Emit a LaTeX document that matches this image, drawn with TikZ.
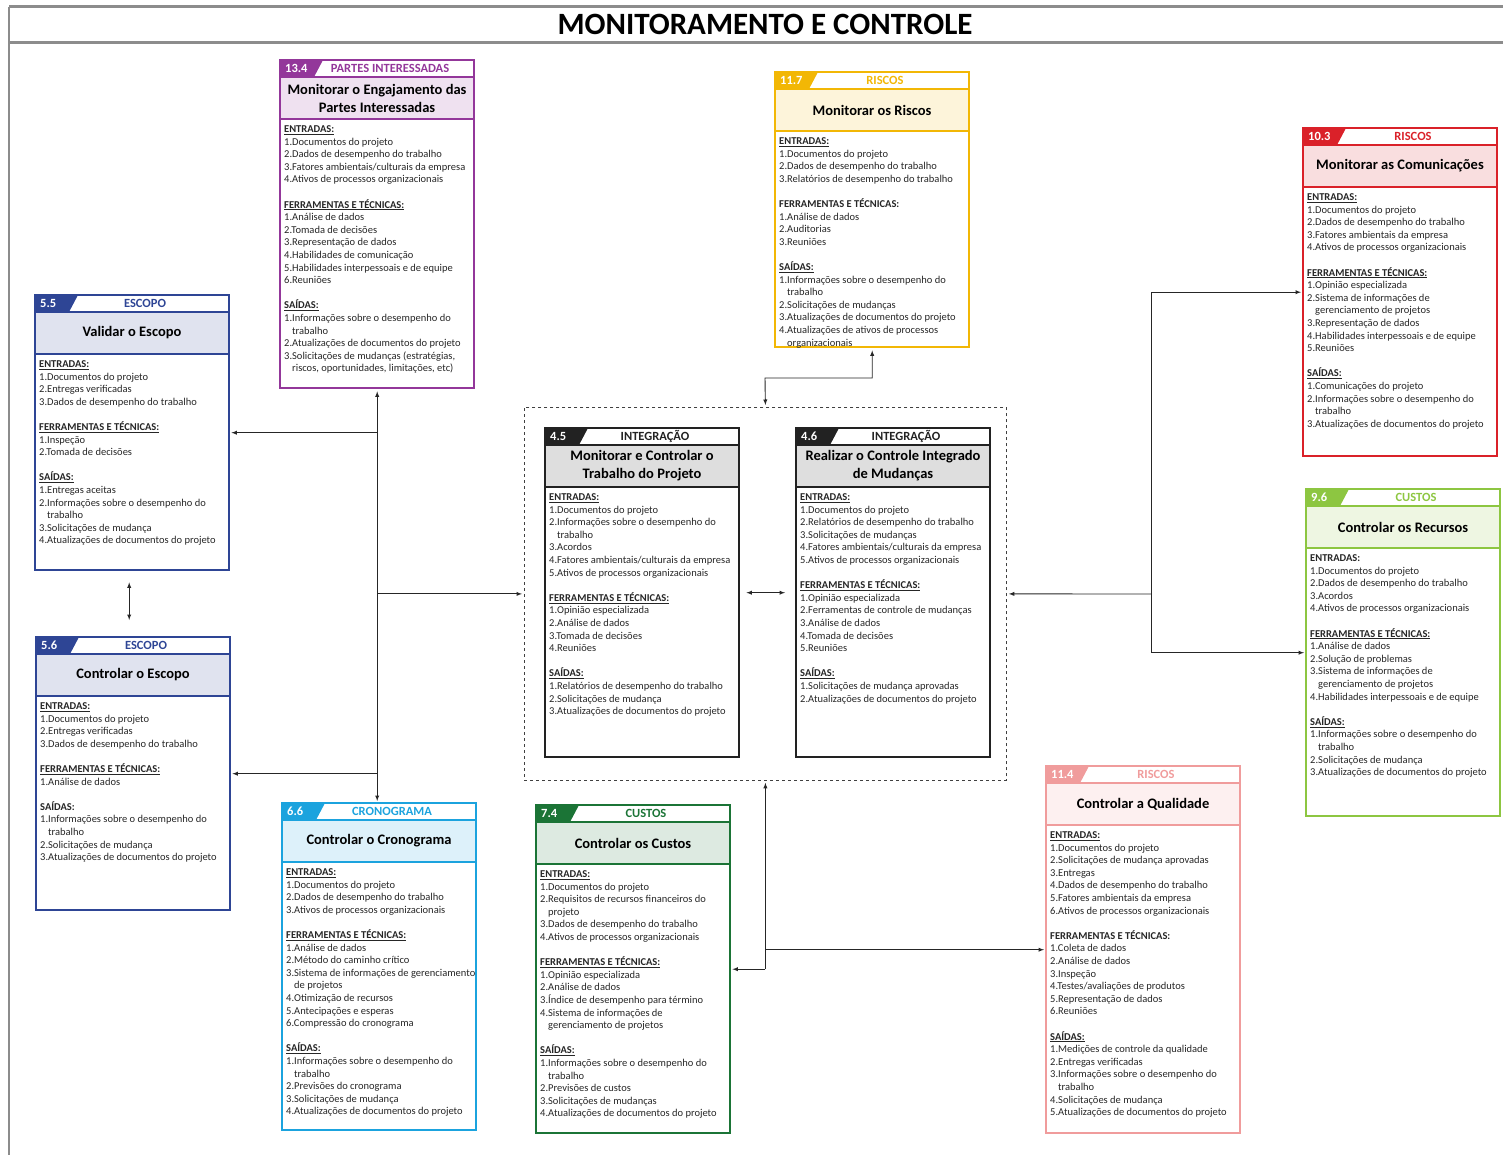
\documentclass[tikz,border=0pt]{standalone}
\usepackage{fontspec}
\setmainfont{Carlito}
\usetikzlibrary{arrows}
\tikzset{>=latex}

\definecolor{roxo}{HTML}{93379A}
\definecolor{ouro}{HTML}{F2B705}
\definecolor{vermelho}{HTML}{DA2129}
\definecolor{azulesc}{HTML}{2E4595}
\definecolor{preto}{HTML}{222222}
\definecolor{verdecl}{HTML}{8DC641}
\definecolor{rosa}{HTML}{F09C9C}
\definecolor{ciano}{HTML}{1BA3DE}
\definecolor{verdeesc}{HTML}{1B7436}

\tikzset{
  titulo/.style={font=\fontsize{31}{33}\selectfont\bfseries, inner sep=0pt},
  caixa/.style={minimum width=194pt, anchor=north west, inner sep=0pt},
  numero/.style={anchor=west, text=white, font=\fontsize{12.5}{14}\selectfont\bfseries, inner sep=0pt},
  area/.style={font=\fontsize{12.5}{14}\selectfont\bfseries, inner sep=0pt},
  nome/.style={align=center, font=\fontsize{14.5}{18}\selectfont\bfseries, inner sep=0pt},
  itens/.style={anchor=north west, align=left, text=black!85, font=\fontsize{10.5}{12.6}\selectfont, inner sep=0pt},
  seta/.style={->, line width=0.9pt, black!85, shorten >=2pt}
}

\newcommand\hd[1]{\underline{\textbf{#1}}}
\newcommand\cont{\hspace*{8pt}}

% #1 nome, #2 posicao, #3 altura, #4 cor, #5 numero, #6 area, #7 titulo, #8 itens
\newcommand\processo[8]{%
  \node[caixa, minimum height=#3] (#1) at (#2) {};
  \fill[#4!15] (#1.north west) ++(0,17) rectangle ++(194,42);
  \fill[#4] (#1.north west) -- ++(43,0) -- ++(-9,17) -- ++(-34,0) -- cycle;
  \draw[#4, line width=1.2pt] (#1.north west) ++(0,17) -- ++(194,0) ++(-194,42) -- ++(194,0);
  \draw[#4, line width=2pt] (#1.north west) rectangle (#1.south east);
  \path (#1.north west) ++(5,8.5) node[numero] (#1-num) {#5};
  \path (#1.north west) ++(110,8.5) node[area, text=#4] (#1-area) {#6};
  \path (#1.north west) ++(97,38) node[nome] (#1-nome) {#7};
  \path (#1.north west) ++(4,65.5) node[itens] (#1-itens) {#8};
}

\begin{document}
\begin{tikzpicture}[x=1pt, y=-1pt]
    \useasboundingbox (0,0) rectangle (1503,1155);
    % moldura
    \draw[black!45, line width=3pt] (9,7) -- (1503,7) (9,43) -- (1503,43);
    \draw[black!45, line width=2pt] (9,7) -- (9,1155);
    \node[titulo] (tit) at (765,24) {MONITORAMENTO E CONTROLE};

    \node[draw=black!75, dashed, line width=0.8pt, minimum width=482pt, minimum height=373pt,
      anchor=north west, inner sep=0pt] (integ) at (524,407) {};

    \processo{p134}{280,60}{328pt}{roxo}{13.4}{PARTES INTERESSADAS}%
      {Monitorar o Engajamento das\\Partes Interessadas}%
      {\hd{ENTRADAS:}\\
       1.Documentos do projeto\\
       2.Dados de desempenho do trabalho\\
       3.Fatores ambientais/culturais da empresa\\
       4.Ativos de processos organizacionais\\[12.6pt]
       \hd{FERRAMENTAS E TÉCNICAS:}\\
       1.Análise de dados\\
       2.Tomada de decisões\\
       3.Representação de dados\\
       4.Habilidades de comunicação\\
       5.Habilidades interpessoais e de equipe\\
       6.Reuniões\\[12.6pt]
       \hd{SAÍDAS:}\\
       1.Informações sobre o desempenho do\\
       \cont trabalho\\
       2.Atualizações de documentos do projeto\\
       3.Solicitações de mudanças (estratégias,\\
       \cont riscos, oportunidades, limitações, etc)}

    \processo{p117}{775,72}{275pt}{ouro}{11.7}{RISCOS}%
      {Monitorar os Riscos}%
      {\hd{ENTRADAS:}\\
       1.Documentos do projeto\\
       2.Dados de desempenho do trabalho\\
       3.Relatórios de desempenho do trabalho\\[12.6pt]
       \textbf{FERRAMENTAS E TÉCNICAS:}\\
       1.Análise de dados\\
       2.Auditorias\\
       3.Reuniões\\[12.6pt]
       \hd{SAÍDAS:}\\
       1.Informações sobre o desempenho do\\
       \cont trabalho\\
       2.Solicitações de mudanças\\
       3.Atualizações de documentos do projeto\\
       4.Atualizações de ativos de processos\\
       \cont organizacionais}

    \processo{p103}{1303,128}{328pt}{vermelho}{10.3}{RISCOS}%
      {Monitorar as Comunicações}%
      {\hd{ENTRADAS:}\\
       1.Documentos do projeto\\
       2.Dados de desempenho do trabalho\\
       3.Fatores ambientais da empresa\\
       4.Ativos de processos organizacionais\\[12.6pt]
       \hd{FERRAMENTAS E TÉCNICAS:}\\
       1.Opinião especializada\\
       2.Sistema de informações de\\
       \cont gerenciamento de projetos\\
       3.Representação de dados\\
       4.Habilidades interpessoais e de equipe\\
       5.Reuniões\\[12.6pt]
       \hd{SAÍDAS:}\\
       1.Comunicações do projeto\\
       2.Informações sobre o desempenho do\\
       \cont trabalho\\
       3.Atualizações de documentos do projeto}

    \processo{p55}{35,295}{275pt}{azulesc}{5.5}{ESCOPO}%
      {Validar o Escopo}%
      {\hd{ENTRADAS:}\\
       1.Documentos do projeto\\
       2.Entregas verificadas\\
       3.Dados de desempenho do trabalho\\[12.6pt]
       \hd{FERRAMENTAS E TÉCNICAS:}\\
       1.Inspeção\\
       2.Tomada de decisões\\[12.6pt]
       \hd{SAÍDAS:}\\
       1.Entregas aceitas\\
       2.Informações sobre o desempenho do\\
       \cont trabalho\\
       3.Solicitações de mudança\\
       4.Atualizações de documentos do projeto}

    \processo{p56}{36,637}{273pt}{azulesc}{5.6}{ESCOPO}%
      {Controlar o Escopo}%
      {\hd{ENTRADAS:}\\
       1.Documentos do projeto\\
       2.Entregas verificadas\\
       3.Dados de desempenho do trabalho\\[12.6pt]
       \hd{FERRAMENTAS E TÉCNICAS:}\\
       1.Análise de dados\\[12.6pt]
       \textbf{SAÍDAS:}\\
       1.Informações sobre o desempenho do\\
       \cont trabalho\\
       2.Solicitações de mudança\\
       3.Atualizações de documentos do projeto}

    \processo{p45}{545,428}{329pt}{preto}{4.5}{INTEGRAÇÃO}%
      {Monitorar e Controlar o\\Trabalho do Projeto}%
      {\hd{ENTRADAS:}\\
       1.Documentos do projeto\\
       2.Informações sobre o desempenho do\\
       \cont trabalho\\
       3.Acordos\\
       4.Fatores ambientais/culturais da empresa\\
       5.Ativos de processos organizacionais\\[12.6pt]
       \hd{FERRAMENTAS E TÉCNICAS:}\\
       1.Opinião especializada\\
       2.Análise de dados\\
       3.Tomada de decisões\\
       4.Reuniões\\[12.6pt]
       \hd{SAÍDAS:}\\
       1.Relatórios de desempenho do trabalho\\
       2.Solicitações de mudança\\
       3.Atualizações de documentos do projeto}

    \processo{p46}{796,428}{329pt}{preto}{4.6}{INTEGRAÇÃO}%
      {Realizar o Controle Integrado\\de Mudanças}%
      {\hd{ENTRADAS:}\\
       1.Documentos do projeto\\
       2.Relatórios de desempenho do trabalho\\
       3.Solicitações de mudanças\\
       4.Fatores ambientais/culturais da empresa\\
       5.Ativos de processos organizacionais\\[12.6pt]
       \hd{FERRAMENTAS E TÉCNICAS:}\\
       1.Opinião especializada\\
       2.Ferramentas de controle de mudanças\\
       3.Análise de dados\\
       4.Tomada de decisões\\
       5.Reuniões\\[12.6pt]
       \hd{SAÍDAS:}\\
       1.Solicitações de mudança aprovadas\\
       2.Atualizações de documentos do projeto}

    \processo{p96}{1306,489}{327pt}{verdecl}{9.6}{CUSTOS}%
      {Controlar os Recursos}%
      {\textbf{ENTRADAS:}\\
       1.Documentos do projeto\\
       2.Dados de desempenho do trabalho\\
       3.Acordos\\
       4.Ativos de processos organizacionais\\[12.6pt]
       \hd{FERRAMENTAS E TÉCNICAS:}\\
       1.Análise de dados\\
       2.Solução de problemas\\
       3.Sistema de informações de\\
       \cont gerenciamento de projetos\\
       4.Habilidades interpessoais e de equipe\\[12.6pt]
       \hd{SAÍDAS:}\\
       1.Informações sobre o desempenho do\\
       \cont trabalho\\
       2.Solicitações de mudança\\
       3.Atualizações de documentos do projeto}

    \processo{p114}{1046,766}{367pt}{rosa}{11.4}{RISCOS}%
      {Controlar a Qualidade}%
      {\hd{ENTRADAS:}\\
       1.Documentos do projeto\\
       2.Solicitações de mudança aprovadas\\
       3.Entregas\\
       4.Dados de desempenho do trabalho\\
       5.Fatores ambientais da empresa\\
       6.Ativos de processos organizacionais\\[12.6pt]
       \textbf{FERRAMENTAS E TÉCNICAS:}\\
       1.Coleta de dados\\
       2.Análise de dados\\
       3.Inspeção\\
       4.Testes/avaliações de produtos\\
       5.Representação de dados\\
       6.Reuniões\\[12.6pt]
       \hd{SAÍDAS:}\\
       1.Medições de controle da qualidade\\
       2.Entregas verificadas\\
       3.Informações sobre o desempenho do\\
       \cont trabalho\\
       4.Solicitações de mudança\\
       5.Atualizações de documentos do projeto}

    \processo{p66}{282,803}{327pt}{ciano}{6.6}{CRONOGRAMA}%
      {Controlar o Cronograma}%
      {\hd{ENTRADAS:}\\
       1.Documentos do projeto\\
       2.Dados de desempenho do trabalho\\
       3.Ativos de processos organizacionais\\[12.6pt]
       \hd{FERRAMENTAS E TÉCNICAS:}\\
       1.Análise de dados\\
       2.Método do caminho crítico\\
       3.Sistema de informações de gerenciamento\\
       \cont de projetos\\
       4.Otimização de recursos\\
       5.Antecipações e esperas\\
       6.Compressão do cronograma\\[12.6pt]
       \hd{SAÍDAS:}\\
       1.Informações sobre o desempenho do\\
       \cont trabalho\\
       2.Previsões do cronograma\\
       3.Solicitações de mudança\\
       4.Atualizações de documentos do projeto}

    \processo{p74}{536,805}{328pt}{verdeesc}{7.4}{CUSTOS}%
      {Controlar os Custos}%
      {\hd{ENTRADAS:}\\
       1.Documentos do projeto\\
       2.Requisitos de recursos financeiros do\\
       \cont projeto\\
       3.Dados de desempenho do trabalho\\
       4.Ativos de processos organizacionais\\[12.6pt]
       \hd{FERRAMENTAS E TÉCNICAS:}\\
       1.Opinião especializada\\
       2.Análise de dados\\
       3.Índice de desempenho para término\\
       4.Sistema de informações de\\
       \cont gerenciamento de projetos\\[12.6pt]
       \hd{SAÍDAS:}\\
       1.Informações sobre o desempenho do\\
       \cont trabalho\\
       2.Previsões de custos\\
       3.Solicitações de mudanças\\
       4.Atualizações de documentos do projeto}

    % ligacoes
    \coordinate (topo) at (765,378);
    \coordinate (dir) at (1151,594);
    \draw[seta, <->, shorten <=3pt] (p134.south) -- (p134.south |- p66.north);
    \draw[seta] (p134.south |- p55.east) -- (p55.east);
    \draw[seta] (p134.south |- p56.east) -- (p56.east);
    \draw[seta] (p134.south |- integ.west) -- (integ.west);
    \draw[seta, <->, shorten <=12pt, shorten >=17pt] ([xshift=-3pt]p55.south) -- ([xshift=-3pt]p55.south |- p56.north);
    \draw[seta, <->, shorten <=7pt, shorten >=11pt] (p45.east) -- (p46.west);
    \draw[seta, <->, shorten <=3pt] (p117.south) |- (topo) -- (integ.north);
    \draw[seta] (dir) -- (integ.east);
    \draw[seta] (dir) |- (p103.west);
    \draw[seta] (dir) |- (p96.west);
    \draw[seta] (integ.south |- p74.east) -- (integ.south);
    \draw[seta] (integ.south |- p74.east) -- (p74.east);
    \draw[seta] (integ.south |- p114.west) -- (p114.west);
\end{tikzpicture}
\end{document}
